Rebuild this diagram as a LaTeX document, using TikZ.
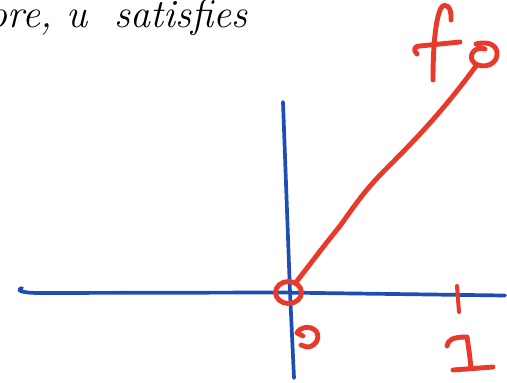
\documentclass[tikz,border=0pt]{standalone}
\begin{document}
\begin{tikzpicture}[x=1pt,y=-1pt,line cap=round,line join=round,
  axis/.style={draw=axisblue,line width=3.7pt},
  ink/.style={draw=inkred,line width=4.9pt}]
\definecolor{axisblue}{HTML}{1E4DB7}
\definecolor{inkred}{HTML}{E8392A}
\useasboundingbox (0,0) rectangle (507,383);
\begin{scope}
\clip (0,0) rectangle (507,383);
\node[anchor=base east,inner sep=0pt,font=\fontsize{40}{44}\selectfont\itshape] (txt) at (248,27) {more, u\,\, satisfies};
\end{scope}
% axes
\draw[axis] (22,288) .. controls (16,290) and (20,293) .. (40,293) -- (280,292.5) -- (505,295.5);
\draw[axis] (283,102) -- (290,292) -- (294,378);
% red graph line
\draw[ink] (297,281) .. controls (315,258) and (322,248) .. (340,226)
  .. controls (355,205) and (365,190) .. (385,170)
  .. controls (410,145) and (440,115) .. (476,66);
% circles
\draw[ink] (288.5,292.5) ellipse (13 and 11);
\draw[ink] (476,44) .. controls (492,40) and (498,48) .. (497,55)
  .. controls (496,68) and (476,69) .. (472,60)
  .. controls (469,52) and (478,46) .. (485,49);
% f
\draw[ink] (433,80) .. controls (433,50) and (435,20) .. (441,8)
  .. controls (445,2) and (452,6) .. (451,20);
\draw[ink] (417,54) .. controls (413,50) and (414,46) .. (420,46) -- (460,42);
% 0 label
\draw[ink] (303,336) -- (297,333) .. controls (300,327) and (310,325) .. (316,331)
  .. controls (321,338) and (315,347) .. (307,347) -- (301,345);
% tick at 1
\draw[ink,line width=4pt] (457,286) -- (459,312);
% 1 label
\draw[ink] (447,346) .. controls (448,340) and (452,337) .. (467,337)
  .. controls (469,350) and (470,358) .. (471,368);
\draw[ink] (453,370) -- (493,367);
\end{tikzpicture}
\end{document}
